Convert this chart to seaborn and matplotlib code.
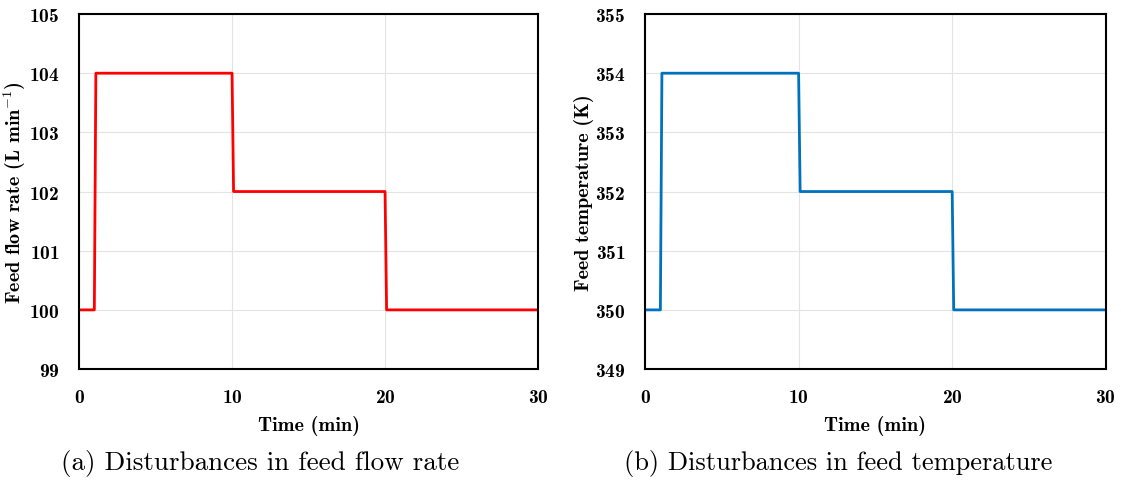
import numpy as np
import pandas as pd
import seaborn as sns
import matplotlib.pyplot as plt

# step disturbances
time = [0, 1, 1.1, 10, 10.1, 20, 20.1, 30]
flow_rate = [100, 100, 104, 104, 102, 102, 100, 100]
feed_temp = [350, 350, 354, 354, 352, 352, 350, 350]

flow_ticks = [99, 100, 101, 102, 103, 104, 105]
temp_ticks = [349, 350, 351, 352, 353, 354, 355]
time_ticks = [0, 10, 20, 30]

sns.set_theme(style="whitegrid")
plt.rcParams["font.family"] = ["cmb10", "DejaVu Serif"]
plt.rcParams["mathtext.fontset"] = "cm"
plt.rcParams["axes.formatter.use_mathtext"] = True
for k in ["text.color", "axes.labelcolor", "xtick.color", "ytick.color"]:
    plt.rcParams[k] = "black"

df = pd.DataFrame({"time": time, "flow": flow_rate, "temp": feed_temp})

fig = plt.figure(figsize=(11.21, 4.85), dpi=100)
ax1 = fig.add_axes([0.0705, 0.237, 0.4095, 0.732])
ax2 = fig.add_axes([0.5754, 0.237, 0.411, 0.732])

sns.lineplot(data=df, x="time", y="flow", ax=ax1, color="#ff0000",
             linewidth=2.0, estimator=None, sort=False)
sns.lineplot(data=df, x="time", y="temp", ax=ax2, color="#0072bd",
             linewidth=2.0, estimator=None, sort=False)

for ax, yt, ylab in [(ax1, flow_ticks, r"Feed flow rate (L min$^{\mathbf{-1}}$)"),
                     (ax2, temp_ticks, "Feed temperature (K)")]:
    ax.set_xlim(0, 30)
    ax.set_ylim(yt[0], yt[-1])
    ax.set_xticks(time_ticks)
    ax.set_yticks(yt)
    ax.set_xlabel("Time (min)", fontsize=14.5, labelpad=6)
    ax.set_ylabel(ylab, fontsize=14.5, labelpad=1)
    ax.tick_params(axis="x", labelsize=14, pad=14, length=0)
    ax.tick_params(axis="y", labelsize=14, pad=14, length=0)
    ax.grid(True, color="#e3e3e3", linewidth=0.8)
    ax.set_facecolor("white")
    for s in ax.spines.values():
        s.set_color("black")
        s.set_linewidth(1.5)

fig.text(0.232, 0.03, "(a) Disturbances in feed flow rate", fontsize=19.5,
         ha="center", family=["cmr10", "DejaVu Serif"])
fig.text(0.748, 0.03, "(b) Disturbances in feed temperature", fontsize=19,
         ha="center", family=["cmr10", "DejaVu Serif"])

fig.savefig("out.png", dpi=100)
